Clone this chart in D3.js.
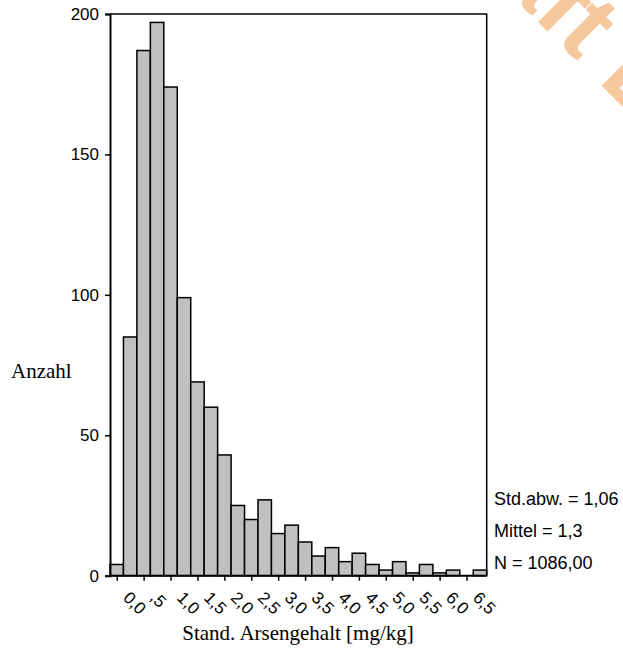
<!DOCTYPE html>
<html><head><meta charset="utf-8">
<script src="https://cdn.jsdelivr.net/npm/d3@7"></script>
<style>body{margin:0;background:#fff}</style>
</head><body>
<script>
const binCenters = [0,0.25,0.5,0.75,1,1.25,1.5,1.75,2,2.25,2.5,2.75,3,3.25,3.5,3.75,4,4.25,4.5,4.75,5,5.25,5.5,5.75,6,6.25,6.5,6.75];
const counts = [4,85,187,197,174,99,69,60,43,25,20,27,15,18,12,7,10,5,8,4,2,5,1,4,1,2,0,2];
const xTickValues = [0,0.5,1,1.5,2,2.5,3,3.5,4,4.5,5,5.5,6,6.5];
const xTickLabels = ["0,0",",5","1,0","1,5","2,0","2,5","3,0","3,5","4,0","4,5","5,0","5,5","6,0","6,5"];
const yTickValues = [0,50,100,150,200];
const statsLines = ["Std.abw. = 1,06","Mittel = 1,3","N = 1086,00"];
const watermarkText = "Draft Draft";
const binWidth = 0.25;

const W = 623, H = 651;
const svg = d3.select("body").append("svg").attr("width", W).attr("height", H);

// watermark (partly outside the picture, as in the reference)
svg.append("text")
  .attr("transform", "translate(416,-100) rotate(45)")
  .attr("font-family", "Liberation Sans, Arial, sans-serif")
  .attr("font-weight", "bold")
  .attr("font-size", 98)
  .attr("fill", "#f6c89e")
  .text(watermarkText);

const x = d3.scaleLinear().domain([-0.125, 6.875]).range([110, 486.7]);
const y = d3.scaleLinear().domain([0, 200]).range([575.7, 14]);

svg.append("g").selectAll("rect").data(counts).join("rect")
  .attr("x", (d,i) => x(binCenters[i] - binWidth/2))
  .attr("width", (d,i) => x(binCenters[i] + binWidth/2) - x(binCenters[i] - binWidth/2))
  .attr("y", d => y(d))
  .attr("height", d => y(0) - y(d))
  .attr("fill", d => d > 0 ? "#c0c0c0" : "none")
  .attr("stroke", d => d > 0 ? "#000" : "none")
  .attr("stroke-width", 1.5);

// frame top and right
svg.append("path")
  .attr("d", `M${x(-0.125)},${y(200)}H${x(6.875)}V${y(0)}`)
  .attr("fill", "none").attr("stroke", "#000").attr("stroke-width", 1.5);

const yAxis = svg.append("g").attr("transform", `translate(${x(-0.125)},0)`)
  .call(d3.axisLeft(y).tickValues(yTickValues).tickSize(5).tickPadding(6).tickFormat(d3.format("d")));
yAxis.select(".domain").attr("stroke-width", 2);
yAxis.selectAll(".tick line").attr("stroke-width", 1.5);
yAxis.selectAll("text").attr("font-family", "Liberation Sans, Arial, sans-serif").attr("font-size", 17).attr("fill", "#000");

const xAxis = svg.append("g").attr("transform", `translate(0,${y(0)})`)
  .call(d3.axisBottom(x).tickValues(xTickValues).tickSize(5).tickFormat((d,i) => xTickLabels[i]));
xAxis.select(".domain").attr("stroke-width", 2).attr("d", `M${x(-0.125)},0H${x(6.875)}`);
xAxis.selectAll(".tick line").attr("stroke-width", 1.5);
xAxis.selectAll("text")
  .attr("font-family", "Liberation Sans, Arial, sans-serif").attr("font-size", 17).attr("fill", "#000")
  .attr("text-anchor", "start").attr("dy", null).attr("y", null)
  .attr("transform", "translate(5,23) rotate(45)");

svg.append("text").attr("x", 298).attr("y", 640).attr("text-anchor", "middle")
  .attr("font-family", "Liberation Serif, Times New Roman, serif").attr("font-size", 21)
  .text("Stand. Arsengehalt [mg/kg]");
svg.append("text").attr("x", 11).attr("y", 378)
  .attr("font-family", "Liberation Serif, Times New Roman, serif").attr("font-size", 21)
  .text("Anzahl");

svg.append("g").selectAll("text").data(statsLines).join("text")
  .attr("x", 494).attr("y", (d,i) => 505 + i*32)
  .attr("font-family", "Liberation Sans, Arial, sans-serif").attr("font-size", 18)
  .text(d => d);
</script>
</body></html>
